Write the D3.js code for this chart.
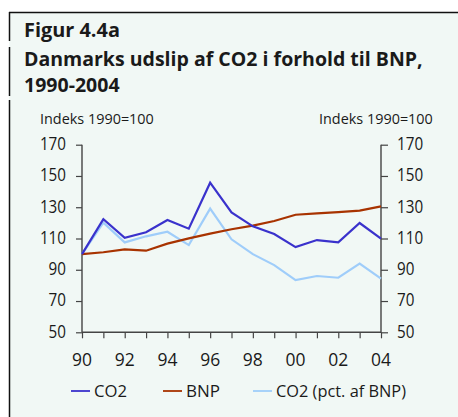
<!DOCTYPE html>
<html><head><meta charset="utf-8">
<script src="https://cdn.jsdelivr.net/npm/d3@7"></script>
<style>
html,body{margin:0;padding:0;background:#fff;}
svg{display:block;}
text{font-family:"Open Sans","Noto Sans",sans-serif;fill:#1a1a1a;}
</style></head>
<body>
<script>
const years = [1990,1991,1992,1993,1994,1995,1996,1997,1998,1999,2000,2001,2002,2003,2004];
const co2 = [100,122.3,110.5,114,121.8,116.3,145.7,126.7,117.8,112.9,104.5,109,107.5,119.9,109.9];
const bnp = [100,101.2,103.1,102.2,106.7,110.1,113.1,115.9,118.2,121.2,125.2,126.1,126.9,127.8,130.5];
const co2pct = [100,120.1,107.5,111.4,114.3,105.8,129.1,109.5,100,93,83.4,86,84.9,93.9,84.3];
const yTicks = [50,70,90,110,130,150,170];
const xTickLabels = ["90","92","94","96","98","00","02","04"];
const seriesNames = ["CO2","BNP","CO2 (pct. af BNP)"];
const colors = ["#3a32cc","#a83300","#9fcdfa"];

const W = 458, H = 417;
const svg = d3.select("body").append("svg").attr("width",W).attr("height",H);

svg.append("rect").attr("x",9).attr("y",12).attr("width",W-9).attr("height",H-12).attr("fill","#f1f8f5");
svg.append("line").attr("x1",9).attr("x2",W).attr("y1",12.5).attr("y2",12.5).attr("stroke","#111").attr("stroke-width",1.5);
[[12,41],[47,96],[100,H]].forEach(s=>{
  svg.append("line").attr("x1",9.5).attr("x2",9.5).attr("y1",s[0]).attr("y2",s[1]).attr("stroke","#111").attr("stroke-width",1.5);
});

function fitText(sel, w){ sel.attr("textLength",w).attr("lengthAdjust","spacingAndGlyphs"); return sel; }
function fitSize(sel, w, node){
  const base = +sel.attr("font-size");
  const len = (node || sel.node()).getComputedTextLength();
  if (len > 0) sel.attr("font-size", base * w / len);
  return sel;
}
fitSize(svg.append("text").attr("x",24).attr("y",37).attr("font-size",21).attr("font-weight",700).text("Figur 4.4a"),96);
const t2 = svg.append("text").attr("x",24).attr("y",66).attr("font-size",21).attr("font-weight",700);
const l2 = t2.append("tspan").attr("x",24).attr("y",66).text("Danmarks udslip af CO2 i forhold til BNP,");
t2.append("tspan").attr("x",24).attr("y",92).text("1990-2004");
fitSize(t2, 399, l2.node());

fitSize(svg.append("text").attr("x",40).attr("y",124).attr("font-size",13.5).text("Indeks 1990=100"),114);
fitSize(svg.append("text").attr("x",319).attr("y",124).attr("font-size",13.5).text("Indeks 1990=100"),114);

const x = d3.scaleLinear().domain([1990,2004]).range([82,381]);
const y = d3.scaleLinear().domain([50,170]).range([332.3,144.7]);

const axisColor = "#444";
const gl = svg.append("g").attr("transform","translate(82,0)")
  .call(d3.axisLeft(y).tickValues(yTicks).tickSize(6).tickPadding(10).tickFormat(d3.format("d")));
const gr = svg.append("g").attr("transform","translate(381,0)")
  .call(d3.axisRight(y).tickValues(yTicks).tickSize(7).tickPadding(9).tickFormat(d3.format("d")));
const gb = svg.append("g").attr("transform","translate(0,332.3)")
  .call(d3.axisBottom(x).tickValues(years).tickSize(6).tickFormat(()=>""));
[gl,gr,gb].forEach(g=>{
  g.select(".domain").attr("stroke",axisColor).attr("stroke-width",1.4);
  g.selectAll(".tick line").attr("stroke",axisColor).attr("stroke-width",1.2);
  g.selectAll(".tick text").attr("font-size",18).attr("fill","#1a1a1a").attr("font-family","'Open Sans',sans-serif")
    .attr("dy","0.27em")
    .attr("textLength",d=>String(d).length*8.7).attr("lengthAdjust","spacingAndGlyphs");
});
gl.select(".domain").attr("d","M0,"+y(170)+"V"+y(50));
gr.select(".domain").attr("d","M0,"+y(170)+"V"+y(50));
gb.select(".domain").attr("d","M"+x(1990)+",0H"+x(2004));

const labYears = years.filter((d,i)=>i%2===0);
svg.append("g").selectAll("text").data(labYears).join("text")
  .attr("x",d=>x(d)).attr("y",366).attr("text-anchor","middle").attr("font-size",18)
  .attr("textLength",20).attr("lengthAdjust","spacingAndGlyphs")
  .text((d,i)=>xTickLabels[i]);

const line = d3.line().x((d,i)=>x(years[i])).y(d=>y(d));
[[co2pct,2],[bnp,1],[co2,0]].forEach(([s,idx])=>{
  svg.append("path").attr("d",line(s)).attr("fill","none").attr("stroke",colors[idx])
    .attr("stroke-width",2.2).attr("stroke-linejoin","miter");
});

const legX = [71,163,253];
const legW = [33,34,130];
seriesNames.forEach((n,i)=>{
  svg.append("line").attr("x1",legX[i]).attr("x2",legX[i]+19).attr("y1",391).attr("y2",391)
    .attr("stroke",colors[i]).attr("stroke-width",1.8);
  fitText(svg.append("text").attr("x",legX[i]+23).attr("y",397).attr("font-size",16.5).text(n),legW[i]);
});
</script>
</body></html>
